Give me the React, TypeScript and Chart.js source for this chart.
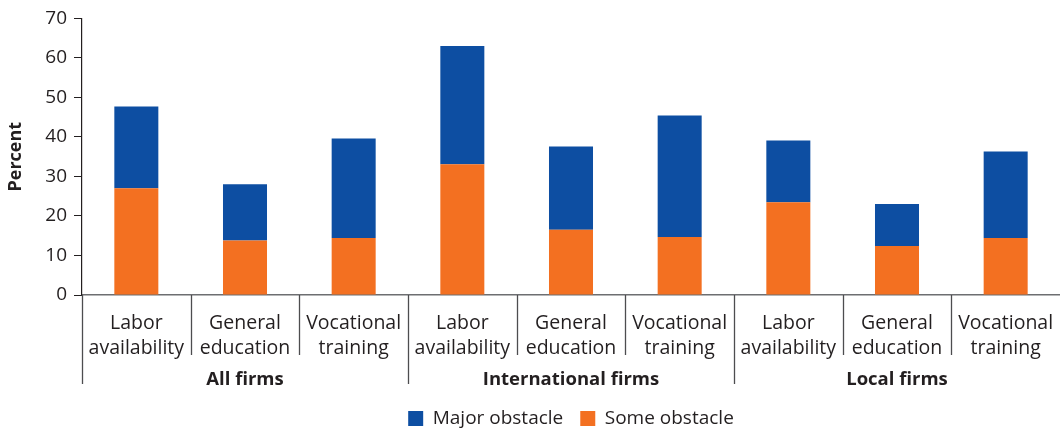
import React, { useEffect, useRef } from "react";
import { Chart, registerables } from "chart.js";

Chart.register(...registerables);

const categories: string[][] = [
  ["Labor", "availability"],
  ["General", "education"],
  ["Vocational", "training"],
  ["Labor", "availability"],
  ["General", "education"],
  ["Vocational", "training"],
  ["Labor", "availability"],
  ["General", "education"],
  ["Vocational", "training"],
];
const groups: string[] = ["All firms", "International firms", "Local firms"];
const someObstacle: number[] = [27.0, 13.8, 14.4, 33.1, 16.5, 14.7, 23.5, 12.4, 14.4];
const majorObstacle: number[] = [20.7, 14.2, 25.2, 29.9, 21.1, 30.7, 15.6, 10.6, 21.9];
const yTicks: number[] = [0, 10, 20, 30, 40, 50, 60, 70];

const BLUE = "#0D4EA2";
const ORANGE = "#F37021";
const TEXT = "#231F20";
const FONT = "'Open Sans', sans-serif";

const groupPlugin = {
  id: "groupDividers",
  afterDraw(chart: any) {
    const x = chart.scales.x;
    const ctx = chart.ctx;
    const n = categories.length;
    const half = (x.getPixelForValue(1) - x.getPixelForValue(0)) / 2;
    const top = chart.chartArea.bottom;
    ctx.save();
    ctx.strokeStyle = "#4d4d4f";
    ctx.lineWidth = 1.3;
    for (let i = 0; i < n; i++) {
      const px = Math.round(x.getPixelForValue(i) - half) + 0.5;
      const isGroup = i % 3 === 0;
      ctx.beginPath();
      ctx.moveTo(px, top);
      ctx.lineTo(px, top + (isGroup ? 89 : 60));
      ctx.stroke();
    }
    ctx.fillStyle = TEXT;
    ctx.font = `bold 18.5px ${FONT}`;
    ctx.textAlign = "center";
    ctx.textBaseline = "alphabetic";
    groups.forEach((g, gi) => {
      const cx = x.getPixelForValue(gi * 3 + 1);
      ctx.fillText(g, cx, top + 90);
    });
    ctx.restore();
  },
};

export default function App() {
  const ref = useRef<HTMLCanvasElement | null>(null);
  useEffect(() => {
    document.body.style.margin = "0";
    if (!ref.current) return;
    const chart = new Chart(ref.current, {
      type: "bar",
      data: {
        labels: categories,
        datasets: [
          {
            label: "Some obstacle",
            data: someObstacle,
            backgroundColor: ORANGE,
            categoryPercentage: 1,
            barPercentage: 0.405,
          },
          {
            label: "Major obstacle",
            data: majorObstacle,
            backgroundColor: BLUE,
            categoryPercentage: 1,
            barPercentage: 0.405,
          },
        ],
      },
      options: {
        responsive: false,
        animation: false,
        layout: { padding: { left: 0, right: 0, top: 17, bottom: -8 } },
        plugins: {
          tooltip: { enabled: false },
          legend: {
            position: "bottom",
            fullSize: false,
            reverse: true,
            labels: {
              boxWidth: 15,
              boxHeight: 15,
              padding: 17,
              color: TEXT,
              font: { family: FONT, size: 19 },
            },
          },
        },
        scales: {
          x: {
            stacked: true,
            grid: { display: false, drawTicks: true, tickLength: 15.5 },
            border: { display: true, color: "#6d6e71", width: 1.5 },
            ticks: {
              color: TEXT,
              padding: 0,
              maxRotation: 0,
              autoSkip: false,
              font: { family: FONT, size: 19.5, lineHeight: 1.28 },
            },
            afterFit: (s: any) => {
              s.height = 97;
            },
          },
          y: {
            stacked: true,
            min: 0,
            max: 70,
            afterBuildTicks: (s: any) => {
              s.ticks = yTicks.map((v) => ({ value: v }));
            },
            grid: {
              drawOnChartArea: false,
              drawTicks: true,
              tickLength: 8,
              color: TEXT,
            },
            border: { display: true, color: TEXT, width: 1.2 },
            ticks: {
              color: TEXT,
              padding: 7,
              font: { family: FONT, size: 19 },
            },
            title: {
              display: true,
              text: "Percent",
              color: TEXT,
              padding: { top: 5.5, bottom: 0 },
              font: { family: FONT, size: 18, weight: "bold" },
            },
            afterFit: (s: any) => {
              s.width = 82;
            },
          },
        },
      },
      plugins: [groupPlugin],
    });
    return () => chart.destroy();
  }, []);
  return (
    <div style={{ position: "absolute", left: 0, top: 0, width: 1060, height: 430 }}>
      <canvas ref={ref} width={1060} height={430} />
    </div>
  );
}
